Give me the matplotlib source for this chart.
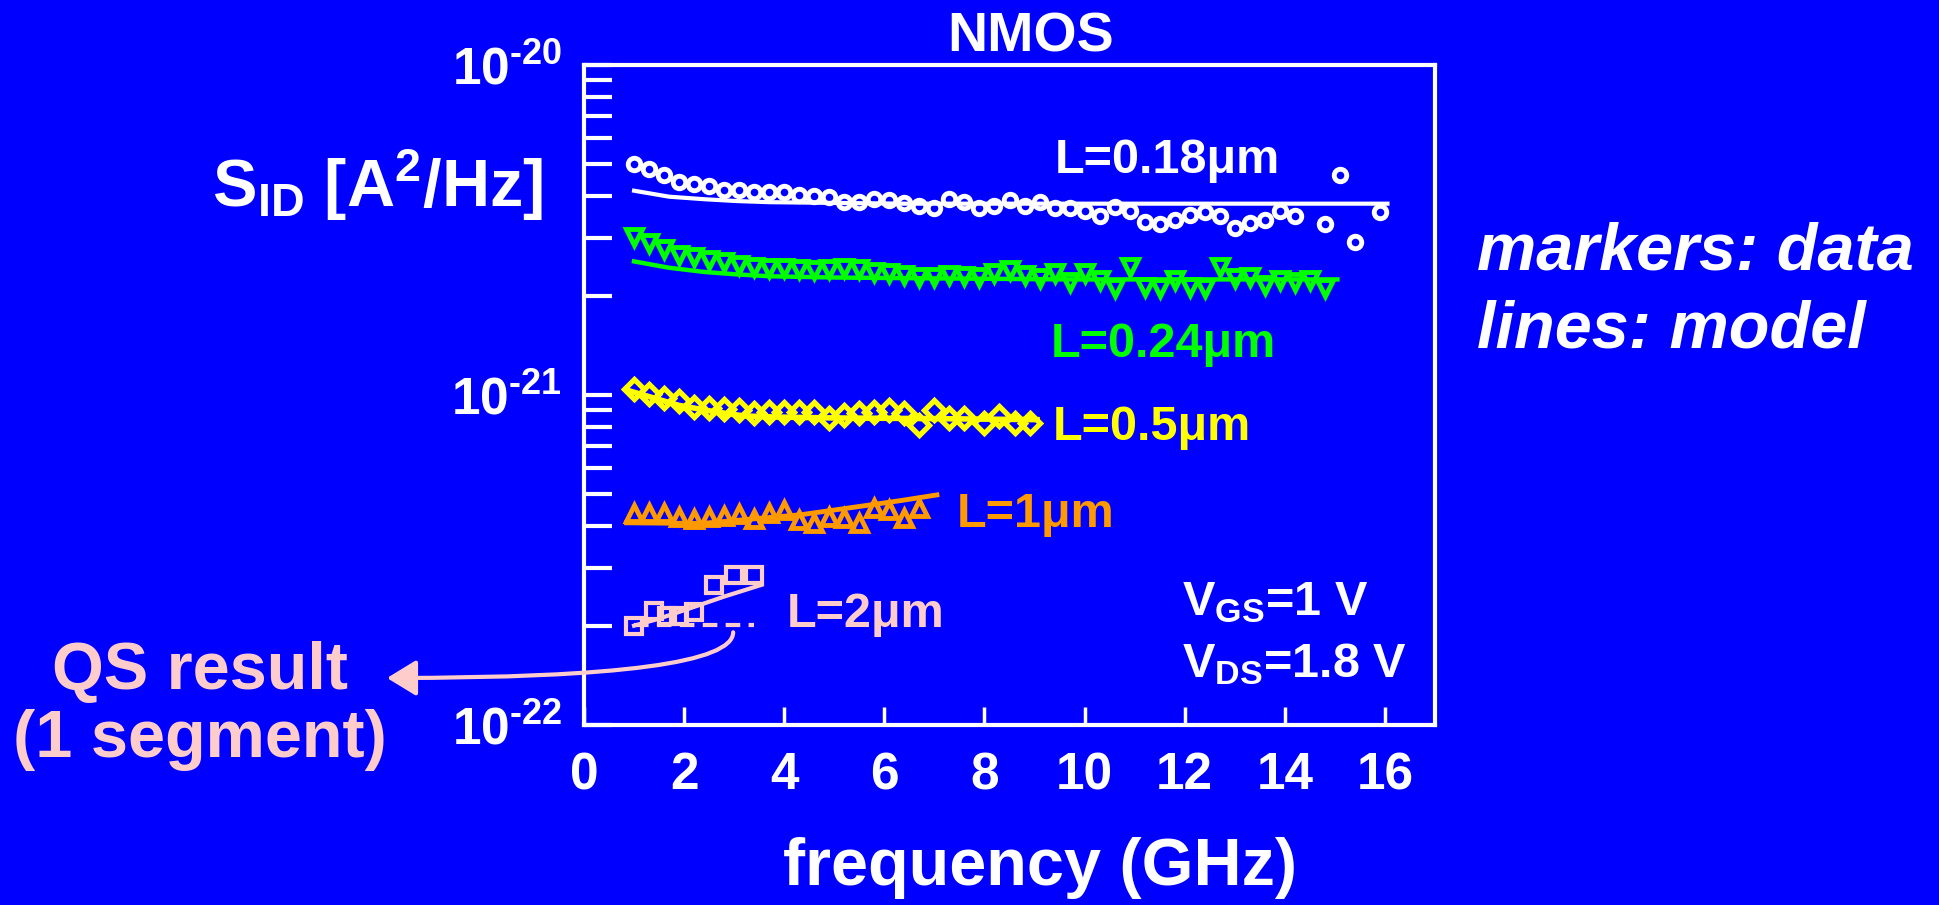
import matplotlib
matplotlib.use('Agg')
import matplotlib.pyplot as plt
from matplotlib.ticker import LogLocator, NullFormatter, FixedLocator

plt.rcParams['font.family'] = ['Liberation Sans', 'DejaVu Sans']
plt.rcParams['font.weight'] = 'bold'
plt.rcParams['mathtext.fontset'] = 'custom'
plt.rcParams['mathtext.rm'] = 'Liberation Sans:bold'
plt.rcParams['mathtext.bf'] = 'Liberation Sans:bold'
plt.rcParams['mathtext.it'] = 'Liberation Sans:bold:italic'
plt.rcParams['mathtext.default'] = 'regular'

# measured noise data (frequency in GHz, S_ID in units of 1e-21 A^2/Hz)
f_018 = [1.0, 1.3, 1.6, 1.9, 2.2, 2.5, 2.8, 3.1, 3.4, 3.7, 4.0, 4.3, 4.6, 4.9,
         5.2, 5.5, 5.8, 6.1, 6.4, 6.7, 7.0, 7.3, 7.6, 7.9, 8.2, 8.5, 8.8, 9.1,
         9.4, 9.7, 10.0, 10.3, 10.6, 10.9, 11.2, 11.5, 11.8, 12.1, 12.4, 12.7,
         13.0, 13.3, 13.6, 13.9, 14.2, 14.8, 15.1, 15.4, 15.9]
s_018 = [5.01, 4.84, 4.64, 4.42, 4.36, 4.30, 4.18, 4.18, 4.12, 4.12, 4.12, 4.04,
         4.01, 3.98, 3.84, 3.84, 3.93, 3.90, 3.82, 3.74, 3.69, 3.93, 3.84, 3.69,
         3.74, 3.90, 3.74, 3.84, 3.69, 3.69, 3.61, 3.49, 3.71, 3.61, 3.34, 3.30,
         3.39, 3.51, 3.59, 3.49, 3.21, 3.32, 3.39, 3.61, 3.49, 3.30, 4.64, 2.91,
         3.59]

f_024 = [1.0, 1.3, 1.6, 1.9, 2.2, 2.5, 2.8, 3.1, 3.4, 3.7, 4.0, 4.3, 4.6, 4.9,
         5.2, 5.5, 5.8, 6.1, 6.4, 6.7, 7.0, 7.3, 7.6, 7.9, 8.2, 8.5, 8.8, 9.1,
         9.4, 9.7, 10.0, 10.3, 10.6, 10.9, 11.2, 11.5, 11.8, 12.1, 12.4, 12.7,
         13.0, 13.3, 13.6, 13.9, 14.2, 14.5, 14.8]
s_024 = [3.01, 2.89, 2.77, 2.66, 2.62, 2.56, 2.53, 2.48, 2.44, 2.43, 2.43, 2.41,
         2.39, 2.41, 2.43, 2.41, 2.36, 2.34, 2.31, 2.28, 2.28, 2.31, 2.30, 2.28,
         2.34, 2.39, 2.31, 2.26, 2.34, 2.20, 2.34, 2.23, 2.11, 2.44, 2.12, 2.11,
         2.23, 2.12, 2.11, 2.44, 2.26, 2.28, 2.16, 2.23, 2.20, 2.23, 2.11]

f_05 = [1.0, 1.3, 1.6, 1.9, 2.2, 2.5, 2.8, 3.1, 3.4, 3.7, 4.0, 4.3, 4.6, 4.9,
        5.2, 5.5, 5.8, 6.1, 6.4, 6.7, 7.0, 7.3, 7.6, 8.0, 8.3, 8.6, 8.9]
s_05 = [1.04, 1.01, 0.977, 0.961, 0.918, 0.912, 0.907, 0.901, 0.881, 0.890,
        0.890, 0.890, 0.890, 0.850, 0.870, 0.881, 0.890, 0.901, 0.881, 0.811,
        0.901, 0.850, 0.850, 0.821, 0.864, 0.821, 0.821]

f_1 = [1.0, 1.3, 1.6, 1.9, 2.2, 2.5, 2.8, 3.1, 3.4, 3.7, 4.0, 4.3, 4.6, 4.9,
       5.2, 5.5, 5.8, 6.1, 6.4, 6.7]
s_1 = [0.438, 0.440, 0.438, 0.428, 0.420, 0.426, 0.430, 0.436, 0.420, 0.440,
       0.448, 0.418, 0.410, 0.428, 0.423, 0.410, 0.454, 0.448, 0.423, 0.454]

f_2 = [1.0, 1.4, 1.65, 1.9, 2.2, 2.6, 3.0, 3.4]
s_2 = [0.200, 0.222, 0.214, 0.214, 0.220, 0.266, 0.285, 0.285]

# model curves
fm_018 = [1.0, 1.7, 2.4, 3.05, 3.7, 5.0, 6.4, 9.7, 16.05]
sm_018 = [4.16, 3.99, 3.92, 3.87, 3.84, 3.82, 3.80, 3.80, 3.80]
fm_024 = [1.0, 1.7, 2.4, 3.05, 3.7, 5.0, 6.4, 9.7, 15.05]
sm_024 = [2.54, 2.43, 2.36, 2.32, 2.29, 2.27, 2.26, 2.24, 2.24]
fm_05 = [0.9, 1.9, 2.6, 3.2, 3.9, 5.0, 7.0, 9.05]
sm_05 = [1.03, 0.930, 0.890, 0.864, 0.857, 0.852, 0.848, 0.842]
fm_1 = [0.85, 2.35, 4.35, 6.3, 7.05]
sm_1 = [0.410, 0.408, 0.434, 0.478, 0.498]
fm_2 = [1.0, 1.5, 2.2, 2.8, 3.55]
sm_2 = [0.200, 0.210, 0.228, 0.245, 0.266]
fqs_2 = [1.0, 3.4]
sqs_2 = [0.201, 0.201]

BG = '#0000ff'
WHITE = '#ffffff'
GREEN = '#00ff00'
YELLOW = '#ffff00'
ORANGE = '#ff9900'
PINK = '#ffcccc'

W, H = 1939, 905
fig = plt.figure(figsize=(W / 100, H / 100), dpi=100, facecolor=BG)
ax = fig.add_axes([584 / W, 1 - 725 / H, (1435 - 584) / W, (725 - 65) / H])
ax.set_facecolor(BG)
ax.set_yscale('log')
ax.set_xlim(0, 17)
ax.set_ylim(1e-22, 1e-20)

def sc(v):
    return [x * 1e-21 for x in v]

ax.plot(f_018, sc(s_018), 'o', ms=9, mew=3.5, mfc='none', mec=WHITE)
ax.plot(f_024, sc(s_024), 'v', ms=12, mew=3.5, mfc='none', mec=GREEN)
ax.plot(f_05, sc(s_05), 'D', ms=10, mew=3.8, mfc='none', mec=YELLOW)
ax.plot(f_1, sc(s_1), '^', ms=12, mew=3.5, mfc='none', mec=ORANGE)
ax.plot(f_2, sc(s_2), 's', ms=12, mew=3, mfc='none', mec=PINK)

ax.plot(fm_018, sc(sm_018), '-', lw=3, color=WHITE)
ax.plot(fm_024, sc(sm_024), '-', lw=3.2, color=GREEN)
ax.plot(fm_05, sc(sm_05), '-', lw=4, color=YELLOW)
ax.plot(fm_1, sc(sm_1), '-', lw=3.5, color=ORANGE)
ax.plot(fm_2, sc(sm_2), '-', lw=3, color=PINK)
ax.plot(fqs_2, sc(sqs_2), '--', lw=3, color=PINK, dashes=(3.5, 2))

# axes styling
for s in ax.spines.values():
    s.set_color(WHITE)
    s.set_linewidth(3)
ax.xaxis.set_major_locator(FixedLocator([0, 2, 4, 6, 8, 10, 12, 14, 16]))
ax.yaxis.set_major_locator(LogLocator(base=10))
ax.yaxis.set_minor_locator(LogLocator(base=10, subs=range(2, 10)))
ax.yaxis.set_minor_formatter(NullFormatter())
ax.set_yticks([1e-22, 1e-21, 1e-20])
ax.set_yticklabels([r'$10^{\text{-22}}$', r'$10^{\text{-21}}$',
                    r'$10^{\text{-20}}$'])
ax.tick_params(axis='y', which='both', direction='in', length=20, width=3,
               colors=WHITE, labelsize=37, pad=16, right=False)
ax.tick_params(axis='x', which='both', direction='in', length=13, width=2.5,
               colors=WHITE, labelsize=37, pad=19, top=False)

def ftext(x, y, s, **kw):
    fig.text(x / W, 1 - y / H, s, va='baseline', **kw)

ftext(1031, 52, 'NMOS', ha='center', fontsize=40, color=WHITE)
ftext(212, 207, 'S$_{ID}$ [A$^{2}$/Hz]', fontsize=48, color=WHITE)
ftext(1477, 270, 'markers: data', fontsize=48, color=WHITE, style='italic')
ftext(1477, 348, 'lines: model', fontsize=48, color=WHITE, style='italic')
ftext(1040, 885, 'frequency (GHz)', ha='center', fontsize=48, color=WHITE)

ftext(1055, 173, 'L=0.18μm', fontsize=35, color=WHITE)
ftext(1051, 357, 'L=0.24μm', fontsize=35, color=GREEN)
ftext(1053, 440, 'L=0.5μm', fontsize=35, color=YELLOW)
ftext(957, 527, 'L=1μm', fontsize=35, color=ORANGE)
ftext(787, 627, 'L=2μm', fontsize=35, color=PINK)

ftext(1182, 615, 'V$_{GS}$=1 V', fontsize=35, color=WHITE)
ftext(1182, 677, 'V$_{DS}$=1.8 V', fontsize=35, color=WHITE)

ftext(200, 689, 'QS result', ha='center', fontsize=48, color=PINK)
ftext(200, 757, '(1 segment)', ha='center', fontsize=48, color=PINK)

ax.annotate('', xy=(387, H - 678), xycoords='figure pixels',
            xytext=(2.98, 1.91e-22), textcoords='data',
            annotation_clip=False,
            arrowprops=dict(arrowstyle='-|>,head_length=0.9,head_width=0.55',
                            connectionstyle='angle3,angleA=90,angleB=0',
                            color=PINK, lw=3, mutation_scale=20,
                            shrinkA=0, shrinkB=0))

fig.savefig('out.png', dpi=100, facecolor=BG)
